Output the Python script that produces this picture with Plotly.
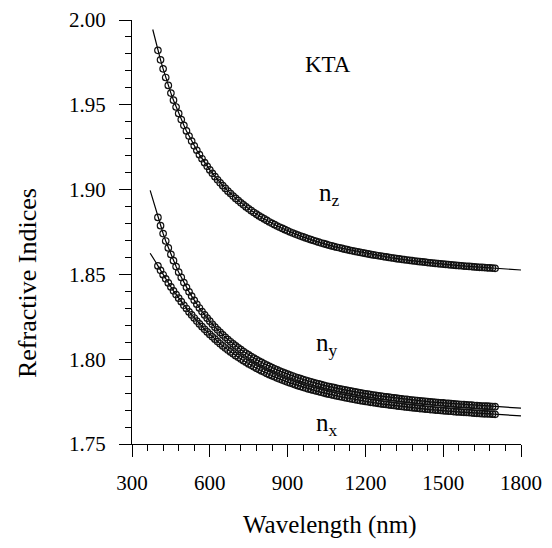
import plotly.graph_objects as go

# ---- data ----
wavelength_nm = list(range(400, 1701, 10))

n_z = [
    1.9821, 1.9765, 1.9712, 1.9661, 1.9614, 1.9569, 1.9527, 1.9487, 1.9449, 1.9413,
    1.9379, 1.9346, 1.9316, 1.9286, 1.9258, 1.9232, 1.9206, 1.9182, 1.9159, 1.9137,
    1.9116, 1.9096, 1.9076, 1.9058, 1.9040, 1.9023, 1.9007, 1.8991, 1.8977, 1.8962,
    1.8948, 1.8935, 1.8922, 1.8910, 1.8898, 1.8887, 1.8876, 1.8865, 1.8855, 1.8845,
    1.8836, 1.8827, 1.8818, 1.8809, 1.8801, 1.8793, 1.8785, 1.8778, 1.8771, 1.8764,
    1.8757, 1.8750, 1.8744, 1.8738, 1.8732, 1.8726, 1.8721, 1.8715, 1.8710, 1.8705,
    1.8700, 1.8695, 1.8690, 1.8685, 1.8681, 1.8677, 1.8672, 1.8668, 1.8664, 1.8660,
    1.8657, 1.8653, 1.8649, 1.8646, 1.8642, 1.8639, 1.8636, 1.8633, 1.8630, 1.8627,
    1.8624, 1.8621, 1.8618, 1.8615, 1.8613, 1.8610, 1.8608, 1.8605, 1.8603, 1.8600,
    1.8598, 1.8596, 1.8593, 1.8591, 1.8589, 1.8587, 1.8585, 1.8583, 1.8581, 1.8579,
    1.8577, 1.8575, 1.8574, 1.8572, 1.8570, 1.8568, 1.8567, 1.8565, 1.8564, 1.8562,
    1.8561, 1.8559, 1.8558, 1.8556, 1.8555, 1.8553, 1.8552, 1.8551, 1.8549, 1.8548,
    1.8547, 1.8546, 1.8544, 1.8543, 1.8542, 1.8541, 1.8540, 1.8539, 1.8538, 1.8537,
    1.8536,
]

n_y = [
    1.8836, 1.8787, 1.8741, 1.8697, 1.8656, 1.8618, 1.8581, 1.8546, 1.8513, 1.8482,
    1.8452, 1.8424, 1.8397, 1.8372, 1.8347, 1.8324, 1.8302, 1.8281, 1.8261, 1.8242,
    1.8224, 1.8206, 1.8189, 1.8173, 1.8158, 1.8143, 1.8129, 1.8116, 1.8103, 1.8090,
    1.8078, 1.8067, 1.8056, 1.8045, 1.8035, 1.8025, 1.8015, 1.8006, 1.7997, 1.7989,
    1.7981, 1.7973, 1.7965, 1.7958, 1.7950, 1.7943, 1.7937, 1.7930, 1.7924, 1.7918,
    1.7912, 1.7906, 1.7901, 1.7895, 1.7890, 1.7885, 1.7880, 1.7876, 1.7871, 1.7867,
    1.7862, 1.7858, 1.7854, 1.7850, 1.7846, 1.7842, 1.7839, 1.7835, 1.7832, 1.7828,
    1.7825, 1.7822, 1.7819, 1.7816, 1.7813, 1.7810, 1.7807, 1.7804, 1.7801, 1.7799,
    1.7796, 1.7794, 1.7791, 1.7789, 1.7787, 1.7784, 1.7782, 1.7780, 1.7778, 1.7776,
    1.7774, 1.7772, 1.7770, 1.7768, 1.7766, 1.7764, 1.7763, 1.7761, 1.7759, 1.7758,
    1.7756, 1.7754, 1.7753, 1.7751, 1.7750, 1.7748, 1.7747, 1.7746, 1.7744, 1.7743,
    1.7742, 1.7740, 1.7739, 1.7738, 1.7736, 1.7735, 1.7734, 1.7733, 1.7732, 1.7731,
    1.7730, 1.7729, 1.7727, 1.7726, 1.7725, 1.7724, 1.7723, 1.7723, 1.7722, 1.7721,
    1.7720,
]

n_x = [
    1.8550, 1.8524, 1.8498, 1.8474, 1.8450, 1.8426, 1.8403, 1.8381, 1.8360, 1.8339,
    1.8318, 1.8299, 1.8279, 1.8261, 1.8243, 1.8225, 1.8208, 1.8192, 1.8176, 1.8161,
    1.8146, 1.8132, 1.8118, 1.8104, 1.8091, 1.8078, 1.8066, 1.8054, 1.8043, 1.8032,
    1.8021, 1.8011, 1.8001, 1.7991, 1.7982, 1.7972, 1.7964, 1.7955, 1.7947, 1.7939,
    1.7931, 1.7924, 1.7916, 1.7909, 1.7902, 1.7896, 1.7889, 1.7883, 1.7877, 1.7871,
    1.7865, 1.7860, 1.7855, 1.7849, 1.7844, 1.7839, 1.7834, 1.7830, 1.7825, 1.7821,
    1.7817, 1.7813, 1.7809, 1.7805, 1.7801, 1.7797, 1.7794, 1.7790, 1.7787, 1.7783,
    1.7780, 1.7777, 1.7774, 1.7771, 1.7768, 1.7765, 1.7762, 1.7759, 1.7756, 1.7754,
    1.7751, 1.7749, 1.7746, 1.7744, 1.7742, 1.7739, 1.7737, 1.7735, 1.7733, 1.7731,
    1.7729, 1.7727, 1.7725, 1.7723, 1.7721, 1.7719, 1.7718, 1.7716, 1.7714, 1.7713,
    1.7711, 1.7709, 1.7708, 1.7706, 1.7705, 1.7703, 1.7702, 1.7700, 1.7699, 1.7698,
    1.7696, 1.7695, 1.7694, 1.7693, 1.7691, 1.7690, 1.7689, 1.7688, 1.7687, 1.7686,
    1.7685, 1.7684, 1.7682, 1.7681, 1.7680, 1.7679, 1.7678, 1.7678, 1.7677, 1.7676,
    1.7675,
]

# fitted-curve extensions beyond the measured points
z_start_nm = [380, 390]
z_start_n = [1.9944, 1.9880]
xy_start_nm = [370, 380, 390]
y_start_n = [1.8995, 1.8943, 1.8888]
x_start_n = [1.8625, 1.8603, 1.8576]
end_nm = [1750, 1800]
z_end_n = [1.8531, 1.8526]
y_end_n = [1.7715, 1.7711]
x_end_n = [1.7670, 1.7666]

x_ticks = [300, 600, 900, 1200, 1500, 1800]
y_ticks = [1.75, 1.80, 1.85, 1.90, 1.95, 2.00]

FONT = "Liberation Serif, Times New Roman, serif"

fig = go.Figure()

series = [
    (z_start_nm, z_start_n, n_z, z_end_n),
    (xy_start_nm, y_start_n, n_y, y_end_n),
    (xy_start_nm, x_start_n, n_x, x_end_n),
]
for s_nm, s_n, vals, e_n in series:
    fig.add_trace(go.Scatter(
        x=s_nm + wavelength_nm + end_nm,
        y=s_n + vals + e_n,
        mode="lines",
        line=dict(color="black", width=1.2),
        hoverinfo="skip",
        showlegend=False,
    ))
for s_nm, s_n, vals, e_n in series:
    fig.add_trace(go.Scatter(
        x=wavelength_nm,
        y=vals,
        mode="markers",
        marker=dict(symbol="circle-open", size=6.5, color="#111111",
                    line=dict(width=1.2, color="#111111")),
        showlegend=False,
    ))

annotations = [
    dict(x=1056, y=1.9735, text="KTA", size=23),
    dict(x=1060, y=1.8973, text="n<sub>z</sub>", size=25),
    dict(x=1052, y=1.8088, text="n<sub>y</sub>", size=25),
    dict(x=1052, y=1.7616, text="n<sub>x</sub>", size=25),
]
for a in annotations:
    fig.add_annotation(x=a["x"], y=a["y"], xref="x", yref="y", text=a["text"],
                       showarrow=False, xanchor="center", yanchor="middle",
                       font=dict(family=FONT, size=a["size"], color="black"))

fig.add_annotation(x=0.509, y=-0.19, xref="paper", yref="paper",
                   text="Wavelength (nm)", showarrow=False,
                   xanchor="center", yanchor="middle",
                   font=dict(family=FONT, size=25, color="black"))
fig.add_annotation(x=-0.267, y=0.38, xref="paper", yref="paper",
                   text="Refractive Indices", showarrow=False, textangle=-90,
                   xanchor="center", yanchor="middle",
                   font=dict(family=FONT, size=26, color="black"))

axis_common = dict(
    showline=True, linecolor="black", linewidth=1.2,
    showgrid=False, zeroline=False, automargin=False,
    ticklabeloverflow="allow",
    ticks="outside", ticklen=12, tickwidth=1.2, tickcolor="black",
    tickfont=dict(family=FONT, size=21, color="black"),
)
fig.update_xaxes(range=[300, 1800], tickvals=x_ticks,
                 ticktext=[str(v) for v in x_ticks],
                 minor=dict(dtick=60, tick0=300, ticks="outside", ticklen=6,
                            tickwidth=1, tickcolor="black", showgrid=False),
                 ticklabelstandoff=8, **axis_common)
fig.update_yaxes(range=[1.75, 2.0], tickvals=y_ticks,
                 ticktext=[f"{v:.2f}" for v in y_ticks],
                 minor=dict(dtick=0.01, tick0=1.75, ticks="outside", ticklen=6,
                            tickwidth=1, tickcolor="black", showgrid=False),
                 ticklabelstandoff=9, **axis_common)

# the page body adds an 8px offset, so the figure is 8px smaller and shifted
fig.update_layout(
    width=544, height=540,
    margin=dict(l=124, r=31, t=12, b=104, autoexpand=False),
    paper_bgcolor="white", plot_bgcolor="white",
    showlegend=False,
)

fig.write_html("out.html")
